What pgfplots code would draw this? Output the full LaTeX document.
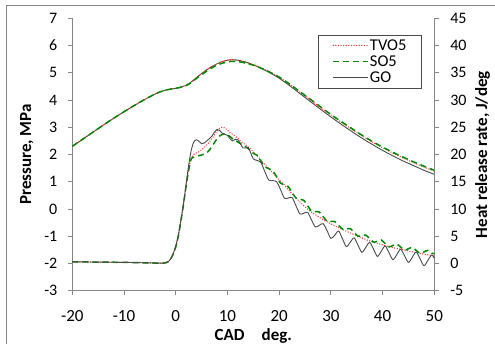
\documentclass[border=0pt]{standalone}
\usepackage{fontspec}
\setmainfont{Carlito}
\usepackage{pgfplots}
\pgfplotsset{compat=1.18}
\definecolor{axgray}{HTML}{868686}
\definecolor{tvored}{HTML}{FF2A2A}
\definecolor{sogreen}{HTML}{008A00}
\definecolor{gogray}{HTML}{4A4A4A}
\pgfplotsset{
  common/.style={
    at={(72.3pt,53.3pt)}, anchor=south west,
    width=362pt, height=272.4pt, scale only axis,
    xmin=-20, xmax=50,
    tick align=outside, major tick length=4.5pt,
    axis line style={axgray, line width=0.8pt},
    tick style={axgray, line width=0.8pt},
    /pgf/number format/assume math mode=true,
    ticklabel style={font=\fontsize{16}{19}\selectfont, black},
    label style={font=\bfseries\fontsize{17}{20}\selectfont},
  },
  tvo/.style={tvored, line width=1.4pt, line cap=round, dash pattern=on 0pt off 2.6pt, smooth, mark=none},
  so/.style={sogreen, line width=1.5pt, dash pattern=on 6pt off 4pt, smooth, mark=none},
  go/.style={gogray, line width=0.9pt, smooth, mark=none},
}
\begin{document}
\begin{tikzpicture}
\useasboundingbox (0pt,0pt) rectangle (495pt,344pt);
\draw[axgray, line width=0.8pt] (6pt,0pt) -- (6pt,339pt) -- (495pt,339pt);
% pressure axis
\begin{axis}[common,
  axis x line*=bottom, axis y line*=left,
  ymin=-3, ymax=7, ytick={-3,-2,...,7},
  xtick={-20,-10,...,50},
  xticklabel style={font=\fontsize{17}{20}\selectfont, yshift=-12pt},
  yticklabel style={xshift=-7pt},
  xlabel={CAD\quad deg.}, ylabel={Pressure, MPa},
  xlabel style={at={(axis description cs:0.5,-0.182)}, anchor=base},
  ylabel style={at={(axis description cs:-0.114,0.5)}, anchor=base},
]
\addplot[go] coordinates {(-20,2.30)(-18,2.56)(-16,2.82)(-14,3.08)(-12,3.33)(-10,3.57)(-8,3.80)(-6,4.02)(-5,4.12)(-4,4.22)(-3,4.30)(-2,4.36)(-1,4.40)(0,4.43)(1,4.47)(2,4.54)(3,4.66)(4,4.82)(5,4.97)(6,5.11)(7,5.23)(8,5.33)(9,5.41)(10,5.46)(11,5.48)(12,5.46)(13,5.42)(14,5.36)(15,5.29)(16,5.21)(18,5.02)(20,4.80)(22,4.53)(24,4.24)(26,3.95)(28,3.66)(30,3.38)(32,3.11)(34,2.85)(36,2.60)(38,2.37)(40,2.15)(42,1.95)(44,1.76)(46,1.59)(48,1.42)(50,1.27)};
\addplot[tvo] coordinates {(-20,2.30)(-18,2.56)(-16,2.82)(-14,3.08)(-12,3.33)(-10,3.57)(-8,3.80)(-6,4.02)(-5,4.12)(-4,4.22)(-3,4.30)(-2,4.36)(-1,4.40)(0,4.43)(1,4.47)(2,4.54)(3,4.66)(4,4.82)(5,4.97)(6,5.11)(7,5.23)(8,5.33)(9,5.41)(10,5.46)(11,5.48)(12,5.46)(13,5.42)(14,5.37)(15,5.30)(16,5.23)(18,5.05)(20,4.84)(22,4.58)(24,4.29)(26,4.01)(28,3.72)(30,3.45)(32,3.19)(34,2.93)(36,2.69)(38,2.46)(40,2.25)(42,2.05)(44,1.87)(46,1.70)(48,1.54)(50,1.39)};
\addplot[so] coordinates {(-20,2.30)(-18,2.56)(-16,2.82)(-14,3.08)(-12,3.33)(-10,3.57)(-8,3.80)(-6,4.02)(-5,4.12)(-4,4.22)(-3,4.30)(-2,4.36)(-1,4.40)(0,4.43)(1,4.47)(2,4.53)(3,4.64)(4,4.79)(5,4.93)(6,5.06)(7,5.18)(8,5.28)(9,5.35)(10,5.40)(11,5.42)(12,5.41)(13,5.38)(14,5.33)(15,5.28)(16,5.21)(18,5.04)(20,4.84)(22,4.59)(24,4.31)(26,4.03)(28,3.75)(30,3.47)(32,3.21)(34,2.96)(36,2.71)(38,2.48)(40,2.27)(42,2.08)(44,1.90)(46,1.73)(48,1.57)(50,1.42)};
\end{axis}
% heat release axis
\begin{axis}[common,
  axis x line=none, axis y line*=right,
  ymin=-5, ymax=45, ytick={-5,0,...,45},
  yticklabel style={xshift=8pt},
  ylabel={Heat release rate, J/deg},
  ylabel style={at={(axis description cs:1.1456,0.5)}, anchor=base},
  legend cell align=left,
  legend style={at={(axis description cs:0.679,0.939)}, anchor=north west,
    draw=gogray, line width=0.8pt, fill=white,
    font=\fontsize{16.5}{19}\selectfont,
    inner xsep=14pt, inner ysep=2pt, row sep=0pt,
    nodes={inner xsep=1pt, inner ysep=2pt}},
  legend image code/.code={\draw[#1] (0pt,0pt) -- (35pt,0pt);},
]
\addplot[tvo] coordinates {(-20,0.3)(-15,0.25)(-10,0.2)(-5,0.1)(-3,0.05)(-2,0.1)(-1.5,0.3)(-1,0.8)(-0.5,1.7)(0,3.0)(0.5,5.0)(1,7.8)(1.5,10.8)(2,14.2)(2.5,17.2)(3,19.3)(3.5,20.0)(4,20.3)(4.5,20.5)(5,20.8)(5.5,21.3)(6,21.8)(6.5,22.3)(7,22.9)(7.5,23.6)(8,24.3)(8.5,24.8)(9,25.0)(9.5,24.9)(10,24.5)(10.5,24.0)(11,23.7)(11.5,23.4)(12,23.0)(12.5,22.5)(13,22.1)(14,21.4)(15,20.5)(16,19.5)(17,18.4)(18,17.4)(19,16.4)(20,15.4)(21,14.4)(22,13.3)(23,12.3)(24,11.3)(25,10.4)(26,9.6)(27,8.95)(28,8.35)(29,7.8)(30,7.25)(31,6.8)(32,6.35)(33,5.9)(34,5.5)(35,5.1)(36,4.7)(37,4.3)(38,4.0)(39,3.7)(40,3.4)(41,3.15)(42,2.9)(43,2.7)(44,2.5)(45,2.3)(46,2.1)(47,1.9)(48,1.7)(49,1.55)(50,1.4)};
\addlegendentry{TVO5}
\addplot[so] coordinates {(-20,0.3)(-15,0.25)(-10,0.2)(-5,0.1)(-3,0.05)(-2,0.1)(-1.5,0.3)(-1,0.8)(-0.5,1.7)(0,3.0)(0.5,5.0)(1,7.8)(1.5,10.8)(2,14.2)(2.5,17.1)(3,19.2)(3.5,19.5)(4,19.7)(5,19.9)(6,20.3)(6.5,20.8)(7,21.5)(7.5,22.2)(8,22.9)(8.5,23.4)(9,23.7)(9.5,23.8)(10,23.6)(10.5,23.3)(11,22.9)(12,22.3)(13,21.7)(14,21.1)(15,20.2)(15.75,19.85)(16.5,18.75)(17.25,17.7)(18,17.4)(18.75,17.05)(19.5,15.9)(20.25,14.75)(21,14.4)(21.75,14.1)(22.5,13.05)(23.25,12.0)(24,11.8)(24.75,11.6)(25.5,10.6)(26.25,9.6)(27,9.5)(27.75,9.45)(28.5,8.6)(29.25,7.75)(30,7.7)(30.75,7.7)(31.5,7.0)(32.25,6.3)(33,6.3)(33.75,6.4)(34.5,5.7)(35.25,5.0)(36,5.1)(36.75,5.2)(37.5,4.55)(38.25,3.9)(39,4.1)(39.75,4.3)(40.5,3.65)(41.25,3.05)(42,3.3)(42.75,3.55)(43.5,3.0)(44.25,2.45)(45,2.7)(45.75,2.95)(46.5,2.4)(47.25,1.85)(48,2.1)(48.75,2.4)(49.5,1.9)(50,1.8)};
\addlegendentry{SO5}
\addplot[go] coordinates {(-20,0.3)(-15,0.25)(-10,0.2)(-5,0.1)(-3,0.05)(-2,0.1)(-1.5,0.3)(-1,0.8)(-0.5,1.8)(0,3.2)(0.5,5.2)(1,8.0)(1.5,11.0)(2,14.5)(2.5,18.0)(3,20.8)(3.5,22.3)(4,22.7)(4.5,22.4)(5,22.0)(5.5,22.1)(6,22.5)(6.5,22.9)(7,23.4)(7.5,24.1)(8,24.6)(8.5,24.4)(9,23.9)(9.5,23.7)(10,23.5)(10.5,22.9)(11,22.5)(11.5,22.8)(12,22.7)(12.5,22.0)(13,21.2)(13.5,21.2)(14,21.3)(14.5,20.3)(15,19.2)(15.75,18.9)(16.5,18.5)(17.25,16.8)(18,15.3)(18.75,15.2)(19.5,15.0)(20.25,13.6)(21,12.0)(21.75,12.0)(22.5,12.1)(23.25,10.6)(24,9.1)(24.75,9.2)(25.5,9.4)(26.25,8.0)(27,6.7)(27.75,7.0)(28.5,7.3)(29.25,6.05)(30,4.6)(30.75,5.2)(31.5,5.95)(32.25,4.5)(33,3.1)(33.75,3.9)(34.5,4.7)(35.25,3.35)(36,2.05)(36.75,2.95)(37.5,3.85)(38.25,2.6)(39,1.3)(39.75,2.25)(40.5,3.2)(41.25,1.95)(42,0.7)(42.75,1.65)(43.5,2.6)(44.25,1.4)(45,0.2)(45.75,1.15)(46.5,2.1)(47.25,0.85)(48,-0.4)(48.75,0.55)(49.5,1.55)(50,0.9)};
\addlegendentry{GO}
\end{axis}
\end{tikzpicture}
\end{document}
